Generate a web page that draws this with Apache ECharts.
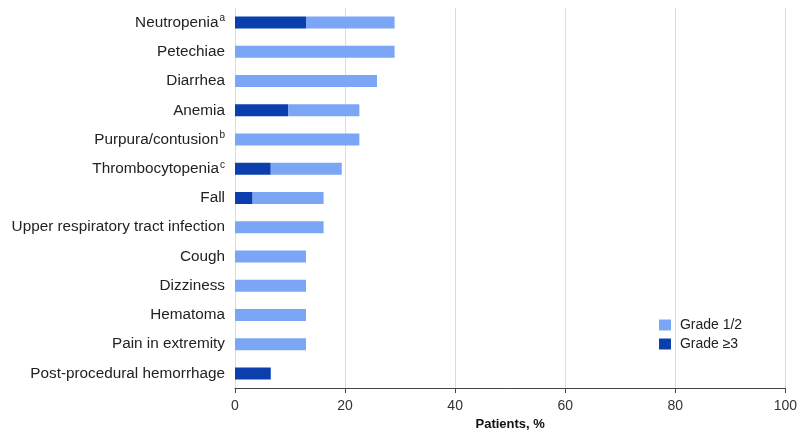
<!DOCTYPE html>
<html>
<head>
<meta charset="utf-8">
<script src="https://cdn.jsdelivr.net/npm/echarts@6/dist/echarts.min.js"></script>
<style>
  html, body { margin: 0; padding: 0; background: #fff; }
  #chart { width: 800px; height: 437px; }
</style>
</head>
<body>
<div id="chart"></div>
<script>
  // adverse events, % of patients
  const categories = [
    'Neutropenia{sup|a}', 'Petechiae', 'Diarrhea', 'Anemia', 'Purpura/contusion{sup|b}',
    'Thrombocytopenia{sup|c}', 'Fall', 'Upper respiratory tract infection', 'Cough',
    'Dizziness', 'Hematoma', 'Pain in extremity', 'Post-procedural hemorrhage'
  ];
  const grade3 = [12.9, 0, 0, 9.7, 0, 6.5, 3.2, 0, 0, 0, 0, 0, 6.5];
  const grade12 = [16.1, 29.0, 25.8, 12.9, 22.6, 12.9, 12.9, 16.1, 12.9, 12.9, 12.9, 12.9, 0];
  const xTicks = [0, 20, 40, 60, 80, 100];

  const lightBlue = '#7aa6f5';
  const darkBlue = '#0b3fae';
  const font = '"Liberation Sans", Arial, sans-serif';

  const chart = echarts.init(document.getElementById('chart'));
  chart.setOption({
    animation: false,
    textStyle: { fontFamily: font },
    grid: { left: 235, right: 11, top: 8, bottom: 49, containLabel: false },
    legend: {
      data: ['Grade 1/2', 'Grade ≥3'],
      orient: 'vertical',
      left: 654,
      top: 313,
      itemWidth: 12,
      itemHeight: 11,
      itemGap: 5,
      icon: 'rect',
      formatter: function (name) { return ' ' + name; },
      textStyle: { fontSize: 14, color: '#222', fontFamily: font }
    },
    xAxis: {
      type: 'value',
      min: xTicks[0],
      max: xTicks[xTicks.length - 1],
      interval: 20,
      name: 'Patients, %',
      nameLocation: 'middle',
      nameGap: 28,
      nameTextStyle: { fontSize: 13, fontWeight: 'bold', color: '#111', fontFamily: font },
      axisLine: { show: true, lineStyle: { color: '#444', width: 1 } },
      axisTick: { show: true, length: 5, lineStyle: { color: '#444' } },
      axisLabel: { fontSize: 14, color: '#333', margin: 11, fontFamily: font },
      splitLine: { show: true, lineStyle: { color: '#dcdcdc' } }
    },
    yAxis: {
      type: 'category',
      inverse: true,
      data: categories,
      axisLine: { show: false },
      axisTick: { show: false },
      axisLabel: {
        fontSize: 15.3,
        color: '#222',
        margin: 10,
        fontFamily: font,
        formatter: function (v) { return v; },
        rich: {
          sup: { fontSize: 10, color: '#222', verticalAlign: 'top', padding: [0, 0, 8, 1], fontFamily: font }
        }
      }
    },
    series: [
      {
        name: 'Grade ≥3',
        type: 'bar',
        stack: 'ae',
        data: grade3,
        barWidth: 12,
        itemStyle: { color: darkBlue }
      },
      {
        name: 'Grade 1/2',
        type: 'bar',
        stack: 'ae',
        data: grade12,
        barWidth: 12,
        itemStyle: { color: lightBlue }
      }
    ]
  });
</script>
</body>
</html>
